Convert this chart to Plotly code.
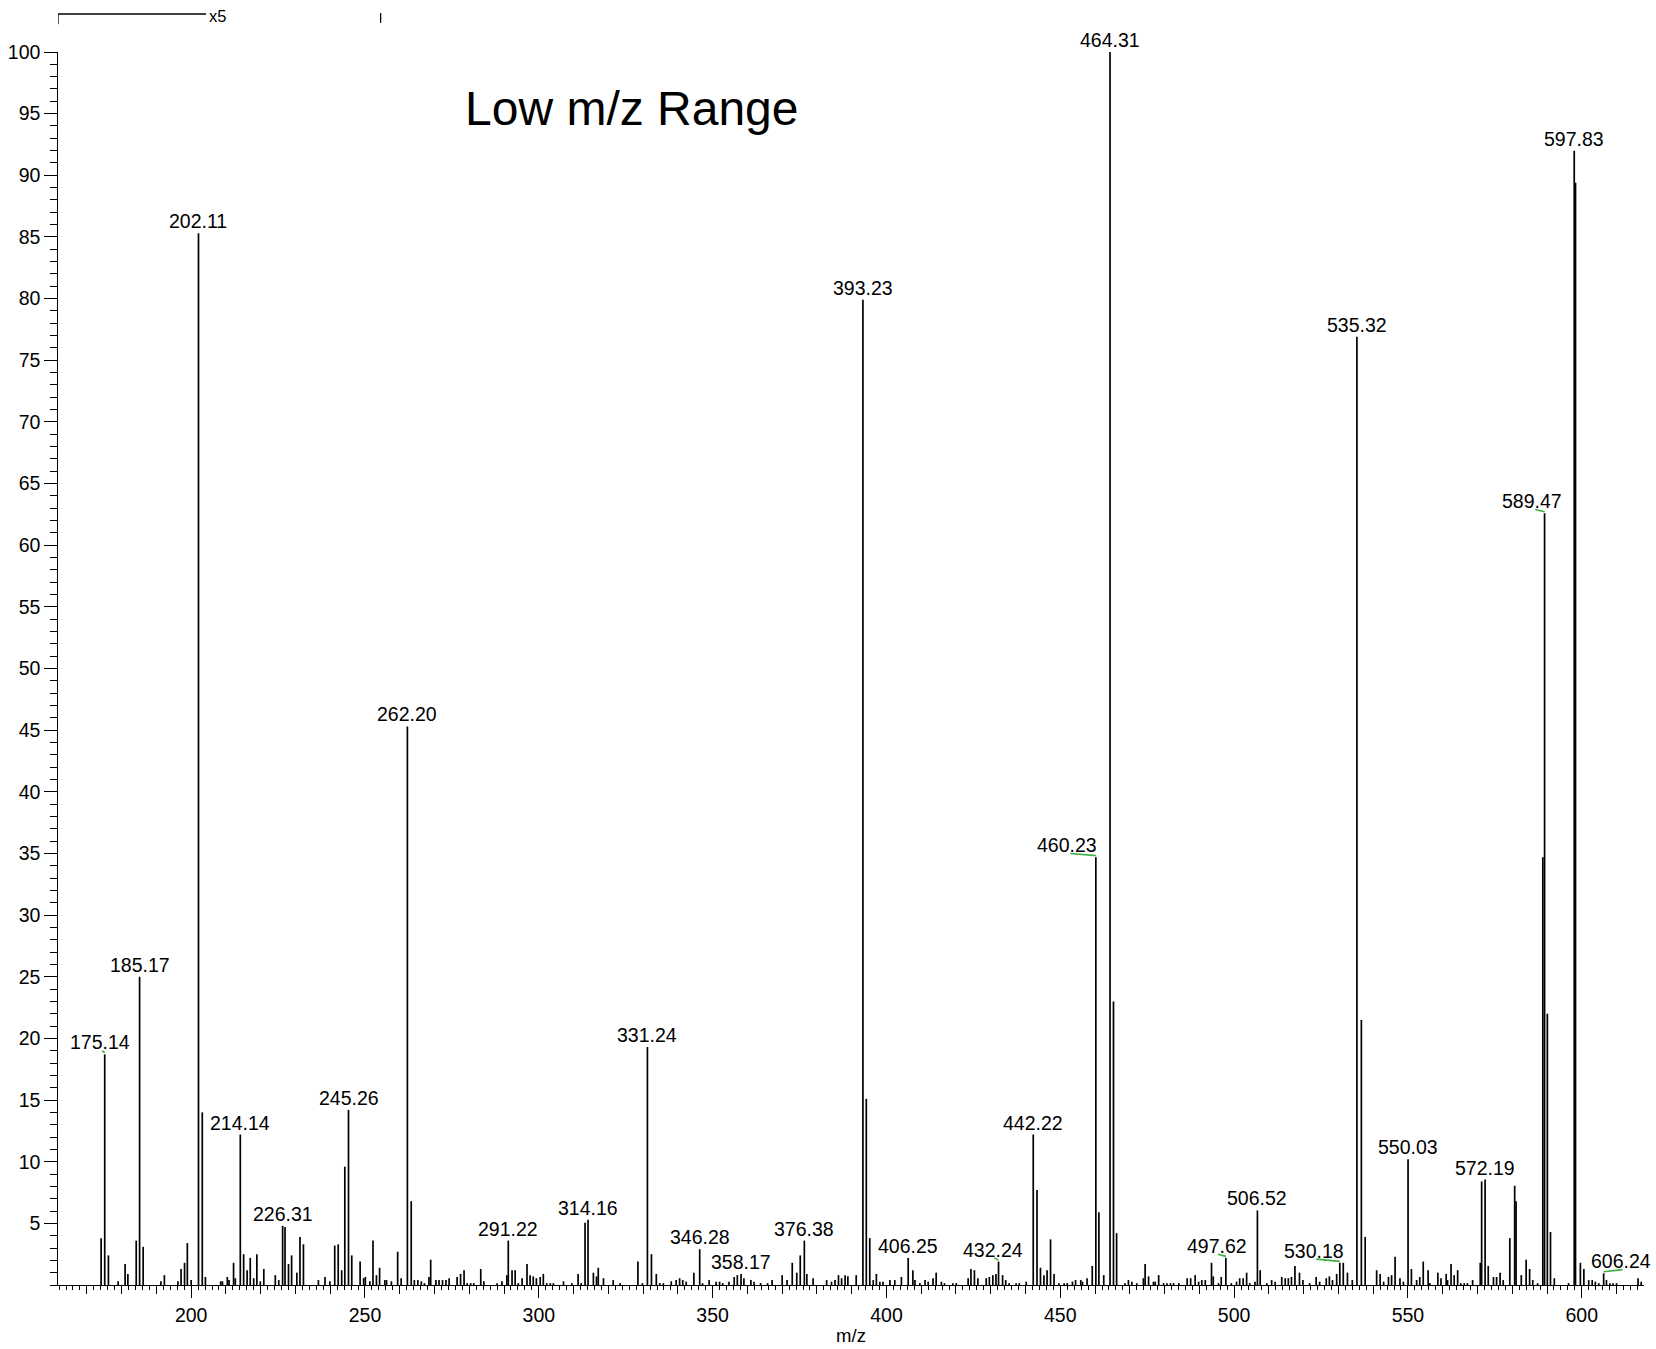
import plotly.graph_objects as go

# ---- peak list (m/z, relative intensity %) ----
mz = [174.1, 175.14, 176.2, 179.0, 181.0, 181.8, 184.2, 185.17, 186.2, 191.3, 192.3, 196.2, 197.1, 198.1, 198.9,
      200.0, 202.11, 203.2, 204.1, 208.5, 209.0, 210.4, 210.9, 212.2, 212.7, 214.14, 215.1, 216.1, 217.0, 218.0,
      218.9, 219.9, 220.9, 224.2, 225.2, 226.31, 227.0, 228.0, 228.9, 230.4, 231.3, 232.3, 236.6, 238.5, 239.9,
      241.3, 242.3, 243.3, 244.2, 245.26, 246.2, 248.6, 249.6, 250.1, 251.4, 252.3, 253.3, 254.2, 255.7, 256.2,
      257.6, 259.4, 260.4, 262.20, 263.3, 264.2, 265.2, 266.2, 267.1, 268.4, 268.9, 270.4, 271.3, 272.3, 273.3,
      274.2, 276.5, 277.5, 278.5, 279.4, 280.4, 281.3, 283.3, 284.2, 288.0, 289.4, 290.8, 291.22, 292.3, 293.2,
      294.1, 295.2, 296.6, 297.5, 298.4, 299.3, 300.4, 301.3, 302.3, 303.3, 304.2, 307.1, 309.5, 311.3, 312.2,
      313.3, 314.16, 315.7, 316.6, 317.1, 318.6, 321.4, 323.4, 328.5, 329.8, 331.24, 332.4, 333.8, 334.8, 335.8,
      338.1, 339.5, 340.5, 341.4, 342.4, 344.6, 346.28, 347.1, 349.0, 351.0, 352.0, 352.9, 354.7, 356.2, 357.1,
      358.17, 359.0, 361.0, 361.9, 363.8, 365.8, 367.1, 370.0, 371.4, 372.9, 374.2, 375.2, 376.38, 377.1, 378.9,
      382.8, 384.2, 385.2, 386.2, 387.1, 388.1, 388.9, 391.3, 393.23, 394.2, 395.2, 396.2, 397.1, 398.1, 399.0,
      401.0, 402.4, 404.3, 406.25, 407.6, 408.2, 409.6, 411.1, 412.0, 413.4, 414.3, 415.8, 416.7, 419.1, 420.1,
      423.5, 424.3, 425.3, 426.3, 428.7, 429.6, 430.6, 431.5, 432.24, 433.4, 434.3, 435.3, 437.3, 438.2, 440.2,
      442.22, 443.3, 444.3, 445.3, 446.2, 447.2, 448.2, 449.6, 451.1, 452.0, 453.5, 454.4, 455.9, 456.4, 457.7,
      459.2, 460.23, 461.1, 462.5, 464.31, 465.3, 466.2, 468.6, 469.6, 470.6, 472.0, 473.9, 474.4, 475.4, 476.8,
      477.3, 478.3, 479.7, 480.7, 481.7, 482.6, 484.1, 486.5, 487.5, 488.8, 489.8, 490.7, 491.7, 493.5, 494.0,
      495.5, 496.3, 497.62, 499.2, 500.7, 501.6, 502.6, 503.6, 504.5, 506.0, 506.7, 507.5, 509.4, 510.8, 511.8,
      513.7, 514.7, 515.6, 516.5, 517.5, 518.8, 519.8, 521.7, 523.6, 524.6, 526.5, 527.4, 528.3, 529.5, 530.4,
      531.4, 532.6, 534.0, 535.32, 536.6, 537.7, 541.0, 542.0, 543.0, 544.4, 545.3, 546.3, 547.7, 548.7, 550.03,
      551.0, 552.5, 553.4, 554.4, 555.8, 556.3, 558.6, 559.5, 561.0, 561.4, 562.4, 563.3, 564.3, 565.2, 566.2,
      567.1, 568.6, 570.8, 571.2, 572.19, 573.1, 574.6, 575.5, 576.5, 577.4, 579.3, 580.7, 581.1, 582.6, 584.0,
      585.0, 585.9, 587.3, 588.8, 589.3, 590.1, 591.0, 592.1, 596.2, 597.83, 598.2, 599.6, 600.6, 602.0, 603.0,
      603.9, 604.9, 606.3, 607.1, 608.1, 609.0, 610.0, 616.2, 617.1]
intensity = [3.8, 18.7, 2.4, 0.3, 1.7, 0.9, 3.6, 25.0, 3.1, 0.3, 0.8, 0.3, 1.3, 1.8, 3.4,
             0.4, 85.3, 14.0, 0.65, 0.3, 0.3, 0.65, 0.4, 1.8, 0.55, 12.2, 2.5, 1.2, 2.2, 0.55,
             2.5, 0.3, 1.3, 0.8, 0.4, 4.8, 4.7, 1.7, 2.4, 1.0, 3.9, 3.3, 0.4, 0.65, 0.3,
             3.2, 3.3, 1.2, 9.6, 14.2, 2.4, 1.9, 0.55, 0.65, 0.3, 3.6, 0.8, 1.4, 0.4, 0.4,
             0.3, 2.7, 0.55, 45.3, 6.8, 0.4, 0.4, 0.3, 0.15, 0.65, 2.05, 0.4, 0.4, 0.4, 0.4,
             0.55, 0.65, 0.9, 1.2, 0.15, 0.15, 0.15, 1.3, 0.3, 0.15, 0.3, 0.8, 3.6, 1.2, 1.2,
             0.15, 0.55, 1.7, 0.8, 0.7, 0.55, 0.65, 0.9, 0.15, 0.15, 0.15, 0.3, 0.15, 0.9, 0.15,
             5.05, 5.3, 1.0, 0.7, 1.4, 0.55, 0.4, 0.15, 1.9, 0.15, 19.3, 2.5, 0.9, 0.15, 0.15,
             0.3, 0.4, 0.55, 0.4, 0.27, 1.0, 2.9, 0.15, 0.4, 0.27, 0.27, 0.15, 0.27, 0.65, 0.8,
             0.9, 0.55, 0.4, 0.27, 0.15, 0.15, 0.4, 0.8, 0.4, 1.8, 1.0, 2.4, 3.6, 0.9, 0.55,
             0.4, 0.27, 0.4, 0.8, 0.55, 0.8, 0.7, 0.8, 79.9, 15.1, 3.8, 0.4, 0.9, 0.27, 0.27,
             0.4, 0.4, 0.65, 2.2, 1.2, 0.4, 0.15, 0.4, 0.27, 0.55, 1.0, 0.27, 0.15, 0.15, 0.15,
             0.55, 1.3, 1.2, 0.55, 0.55, 0.65, 0.8, 0.9, 1.9, 0.8, 0.4, 0.15, 0.15, 0.15, 0.27,
             12.2, 7.7, 1.4, 0.8, 1.2, 3.7, 0.9, 0.15, 0.15, 0.15, 0.27, 0.4, 0.4, 0.27, 0.55,
             1.55, 34.7, 5.9, 0.8, 100.0, 23.0, 4.2, 0.15, 0.4, 0.27, 0.15, 0.55, 1.7, 0.7, 0.27,
             0.27, 0.8, 0.15, 0.15, 0.15, 0.15, 0.15, 0.55, 0.55, 0.8, 0.27, 0.4, 0.4, 1.8, 0.7,
             0.15, 0.65, 2.2, 0.15, 0.27, 0.55, 0.55, 1.0, 0.15, 0.27, 6.05, 1.2, 0.15, 0.4, 0.27,
             0.65, 0.55, 0.55, 0.65, 1.55, 1.0, 0.4, 0.15, 0.65, 0.27, 0.55, 0.7, 0.4, 0.9, 1.8,
             1.8, 1.0, 0.4, 76.9, 21.5, 3.9, 1.2, 0.9, 0.27, 0.65, 0.8, 2.3, 0.55, 0.27, 10.2,
             1.3, 0.4, 0.65, 1.9, 1.2, 0.15, 1.0, 0.55, 0.9, 0.4, 1.7, 0.8, 1.2, 0.15, 0.15,
             0.15, 0.4, 1.8, 8.4, 8.55, 1.55, 0.65, 0.65, 1.0, 0.4, 3.8, 8.05, 6.8, 0.8, 2.05,
             1.3, 0.4, 0.15, 34.7, 62.6, 22.0, 4.3, 0.55, 0.15, 92.0, 89.4, 1.8, 1.3, 0.4, 0.4,
             0.27, 0.15, 0.95, 0.4, 0.15, 0.15, 0.15, 0.55, 0.27]

# ---- peak labels ----
label_text = ["175.14", "185.17", "202.11", "214.14", "226.31", "245.26", "262.20", "291.22", "314.16",
              "331.24", "346.28", "358.17", "376.38", "393.23", "406.25", "432.24", "442.22", "460.23",
              "464.31", "497.62", "506.52", "530.18", "535.32", "550.03", "572.19", "589.47", "597.83",
              "606.24"]
label_peak = [175.14, 185.17, 202.11, 214.14, 226.31, 245.26, 262.20, 291.22, 314.16,
              331.24, 346.28, 358.17, 376.38, 393.23, 406.25, 432.24, 442.22, 460.23,
              464.31, 497.62, 506.7, 530.4, 535.32, 550.03, 572.19, 589.3, 597.83,
              606.3]
label_x = [173.8, 185.17, 202.11, 214.14, 226.31, 245.26, 262.20, 291.22, 314.16,
           331.24, 346.28, 358.17, 376.38, 393.23, 406.25, 430.5, 442.22, 452.0,
           464.31, 495.2, 506.6, 523.0, 535.32, 550.03, 572.19, 585.7, 597.83,
           611.3]
# green leader line start (None = no leader)
leader_start = [174.4, None, None, None, None, None, None, None, None,
                None, None, None, None, None, None, 431.0, None, 452.9,
                None, 495.3, None, 523.6, None, None, None, 586.6, None,
                611.7]

FONT = "Liberation Sans, Arial, sans-serif"
X_RANGE = [161.7, 617.9]


def height_of(x):
    i = min(range(len(mz)), key=lambda k: abs(mz[k] - x))
    return intensity[i]


# stick spectrum
xs, ys = [], []
for m, h in zip(mz, intensity):
    xs += [m, m, None]
    ys += [0, h, None]

fig = go.Figure()
fig.add_trace(go.Scatter(x=xs, y=ys, mode="lines",
                         line=dict(color="black", width=1.7),
                         hoverinfo="skip", showlegend=False))
# invisible trace to host the fine tick axis
fig.add_trace(go.Scatter(x=[300], y=[0], xaxis="x2", mode="markers",
                         marker=dict(opacity=0), hoverinfo="skip", showlegend=False))

annotations = []
shapes = []
for t, px, lx, ls in zip(label_text, label_peak, label_x, leader_start):
    h = height_of(px)
    annotations.append(dict(x=lx, y=h, xref="x", yref="y", text=t, showarrow=False,
                            xanchor="center", yanchor="bottom", yshift=-1,
                            font=dict(family=FONT, size=19.5, color="black")))
    if ls is not None:
        shapes.append(dict(type="line", xref="x", yref="y", x0=ls, y0=h + 0.3, x1=px, y1=h + 0.12,
                           line=dict(color="#3cb043", width=1.6)))

annotations.append(dict(x=278.2, y=95.4, xref="x", yref="y", text="Low m/z Range",
                        showarrow=False, xanchor="left", yanchor="middle",
                        font=dict(family=FONT, size=48, color="black")))

# magnification bracket (x5) above the plot
shapes.append(dict(type="line", xref="x", yref="paper", x0=X_RANGE[0], x1=204.3, y0=1.0308, y1=1.0308,
                   line=dict(color="black", width=1.3)))
shapes.append(dict(type="line", xref="x", yref="paper", x0=X_RANGE[0], x1=X_RANGE[0], y0=1.0308, y1=1.0225,
                   line=dict(color="black", width=1.3)))
shapes.append(dict(type="line", xref="x", yref="paper", x0=254.5, x1=254.5, y0=1.0316, y1=1.0235,
                   line=dict(color="black", width=1.3)))
annotations.append(dict(x=204.6, y=1.0290, xref="x", yref="paper", text="x5", showarrow=False,
                        xanchor="left", yanchor="middle",
                        font=dict(family=FONT, size=16.5, color="black")))

fig.update_layout(
    width=1656, height=1349,
    margin=dict(l=58, r=12, t=52, b=64),
    paper_bgcolor="white", plot_bgcolor="white",
    font=dict(family=FONT, color="black"),
    showlegend=False,
    annotations=annotations,
    shapes=shapes,
    xaxis=dict(range=X_RANGE, showgrid=False, zeroline=False, automargin=False,
               showline=True, linecolor="black", linewidth=1.4,
               ticks="outside", tickmode="array", tickvals=[200, 250, 300, 350, 400, 450, 500, 550, 600],
               ticklen=12, tickwidth=1.4, tickcolor="black",
               tickfont=dict(family=FONT, size=19.5, color="black"),
               minor=dict(tickmode="linear", tick0=0, dtick=10, ticklen=8, tickwidth=1.3,
                          tickcolor="black", ticks="outside", showgrid=False),
               title=dict(text="m/z", font=dict(family=FONT, size=18.5, color="black"), standoff=4)),
    xaxis2=dict(range=X_RANGE, overlaying="x", anchor="y", side="bottom", automargin=False,
                showgrid=False, zeroline=False, showline=False, showticklabels=False,
                ticks="outside", tickmode="linear", tick0=0, dtick=2, ticklen=3.5,
                tickwidth=1.2, tickcolor="black"),
    yaxis=dict(range=[0, 100], showgrid=False, zeroline=False, automargin=False,
               showline=True, linecolor="black", linewidth=1.4,
               ticks="outside", tickmode="array", tickvals=list(range(5, 101, 5)),
               ticklen=12.5, tickwidth=1.4, tickcolor="black",
               tickfont=dict(family=FONT, size=19.5, color="black"),
               minor=dict(tickmode="linear", tick0=0, dtick=1, ticklen=6.7, tickwidth=1.3,
                          tickcolor="black", ticks="outside", showgrid=False)),
)

fig.write_html("out.html", config={"displayModeBar": False},
               post_script="document.body.style.margin='0';document.body.style.overflow='hidden';")
